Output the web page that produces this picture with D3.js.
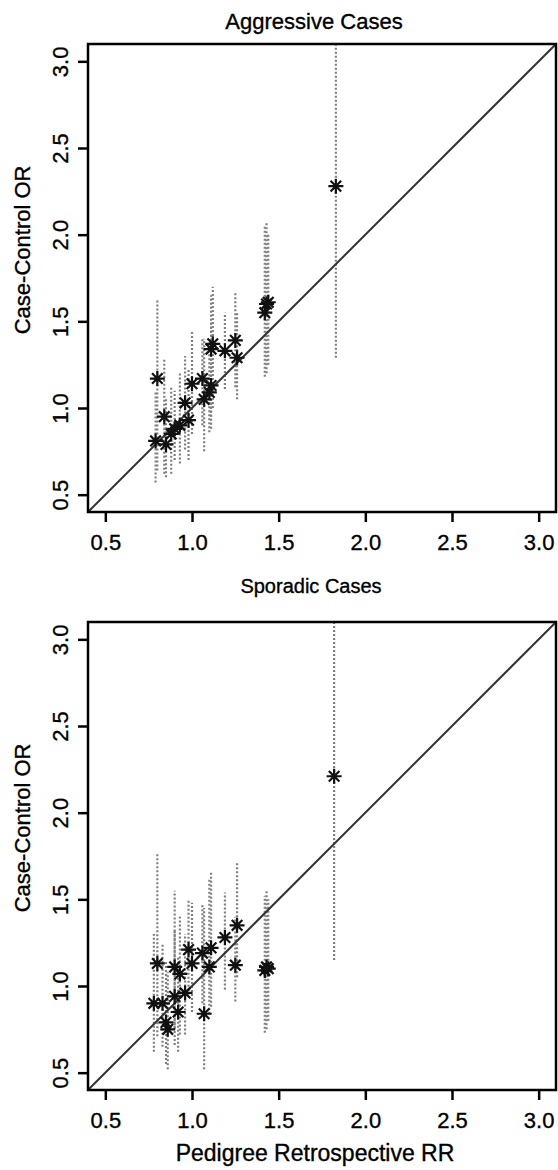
<!DOCTYPE html>
<html>
<head>
<meta charset="utf-8">
<script src="https://cdn.jsdelivr.net/npm/d3@7"></script>
<style>
  body { margin: 0; background: #fff; }
  svg { display: block; font-family: "Liberation Sans", Arial, sans-serif; }
  text { stroke: #000; stroke-width: 0.35; }
</style>
</head>
<body>
<script>
// tick labels shared by both panels
var tickValues = [0.5, 1.0, 1.5, 2.0, 2.5, 3.0];
var tickLabels = ["0.5", "1.0", "1.5", "2.0", "2.5", "3.0"];

// top panel: sporadic cases RR vs case-control OR (with CI)
var sporadicRR = [0.80, 0.84, 0.79, 0.85, 0.88, 0.90, 0.93, 0.96, 0.98, 1.00, 1.06, 1.07, 1.10, 1.11, 1.12, 1.11, 1.19, 1.25, 1.26, 1.42, 1.43, 1.44, 1.83];
var sporadicOR = [1.17, 0.95, 0.81, 0.79, 0.85, 0.88, 0.90, 1.03, 0.93, 1.14, 1.17, 1.05, 1.09, 1.13, 1.37, 1.34, 1.33, 1.39, 1.29, 1.55, 1.60, 1.61, 2.28];
var sporadicLo = [0.64, 0.62, 0.57, 0.60, 0.62, 0.70, 0.68, 0.76, 0.70, 0.85, 0.90, 0.75, 0.86, 0.88, 1.00, 0.95, 1.11, 1.12, 1.05, 1.18, 1.20, 1.25, 1.29];
var sporadicHi = [1.63, 1.28, 1.10, 1.05, 1.12, 1.10, 1.20, 1.30, 1.22, 1.45, 1.40, 1.40, 1.38, 1.50, 1.70, 1.65, 1.55, 1.67, 1.55, 2.05, 2.07, 2.00, 3.60];

// bottom panel: pedigree retrospective RR vs case-control OR (with CI)
var pedigreeRR = [0.80, 0.78, 0.83, 0.85, 0.86, 0.90, 0.90, 0.92, 0.93, 0.96, 0.98, 1.00, 1.07, 1.06, 1.10, 1.11, 1.19, 1.26, 1.25, 1.42, 1.43, 1.44, 1.82];
var pedigreeOR = [1.13, 0.90, 0.90, 0.79, 0.75, 1.11, 0.94, 0.85, 1.07, 0.96, 1.21, 1.13, 0.84, 1.19, 1.11, 1.22, 1.28, 1.35, 1.12, 1.09, 1.11, 1.10, 2.21];
var pedigreeLo = [0.71, 0.62, 0.65, 0.55, 0.52, 0.76, 0.66, 0.62, 0.72, 0.72, 0.95, 0.85, 0.52, 0.90, 0.84, 0.88, 0.98, 1.05, 0.91, 0.73, 0.75, 0.80, 1.15];
var pedigreeHi = [1.76, 1.30, 1.25, 1.15, 1.08, 1.55, 1.32, 1.17, 1.40, 1.30, 1.50, 1.48, 1.45, 1.47, 1.62, 1.66, 1.54, 1.72, 1.40, 1.52, 1.55, 1.50, 3.60];

var W = 558, H = 1170;
var svg = d3.select("body").append("svg").attr("width", W).attr("height", H);

function drawPanel(id, top, xs, ys, los, his, title, xlab, xlabSize, xlabX) {
  var left = 88, right = 556, bottom = top + 468;
  var x = d3.scaleLinear().domain([0.4, 3.1]).range([left, right]);
  var y = d3.scaleLinear().domain([0.4, 3.1]).range([bottom, top]);
  var pts = xs.map(function(d, i) { return {x: d, y: ys[i], lo: los[i], hi: his[i]}; });

  svg.append("clipPath").attr("id", id)
    .append("rect").attr("x", left).attr("y", top).attr("width", right - left).attr("height", bottom - top);

  var plot = svg.append("g").attr("clip-path", "url(#" + id + ")");

  // confidence intervals, dotted grey
  plot.selectAll("line.ci").data(pts).enter().append("line")
    .attr("class", "ci")
    .attr("x1", function(d) { return x(d.x); })
    .attr("x2", function(d) { return x(d.x); })
    .attr("y1", function(d) { return y(d.lo); })
    .attr("y2", function(d) { return y(d.hi); })
    .attr("stroke", "#808080")
    .attr("stroke-width", 2.2)
    .attr("stroke-dasharray", "2,2");

  // identity line
  plot.append("line")
    .attr("x1", x(0.4)).attr("y1", y(0.4))
    .attr("x2", x(3.1)).attr("y2", y(3.1))
    .attr("stroke", "#333").attr("stroke-width", 2);

  // asterisk markers (R pch = 8)
  var r = 7.5, q = r * 0.7071;
  var star = "M" + (-r) + ",0L" + r + ",0M0," + (-r) + "L0," + r +
             "M" + (-q) + "," + (-q) + "L" + q + "," + q +
             "M" + (-q) + "," + q + "L" + q + "," + (-q);
  plot.selectAll("path.pt").data(pts).enter().append("path")
    .attr("class", "pt")
    .attr("d", star)
    .attr("transform", function(d) { return "translate(" + x(d.x) + "," + y(d.y) + ")"; })
    .attr("stroke", "#111").attr("stroke-width", 2.2).attr("fill", "none");

  // box
  svg.append("rect")
    .attr("x", left).attr("y", top).attr("width", right - left).attr("height", bottom - top)
    .attr("fill", "none").attr("stroke", "#000").attr("stroke-width", 2.5);

  // x axis
  var xAxis = svg.append("g").attr("transform", "translate(0," + bottom + ")")
    .call(d3.axisBottom(x).tickValues(tickValues).tickSize(10).tickFormat(function(d, i) { return tickLabels[i]; }));
  xAxis.select(".domain").remove();
  xAxis.selectAll(".tick line").attr("stroke", "#000").attr("stroke-width", 2.5);
  xAxis.selectAll(".tick text").attr("font-size", 22).attr("fill", "#000")
    .attr("font-family", "Liberation Sans, Arial, sans-serif")
    .attr("y", 38).attr("dy", 0);

  // y axis
  var yAxis = svg.append("g").attr("transform", "translate(" + left + ",0)")
    .call(d3.axisLeft(y).tickValues(tickValues).tickSize(10).tickFormat(function(d, i) { return tickLabels[i]; }));
  yAxis.select(".domain").remove();
  yAxis.selectAll(".tick line").attr("stroke", "#000").attr("stroke-width", 2.5);
  yAxis.selectAll(".tick text").attr("font-size", 22).attr("fill", "#000")
    .attr("font-family", "Liberation Sans, Arial, sans-serif")
    .attr("x", null).attr("dy", 0)
    .attr("text-anchor", "middle")
    .attr("transform", "translate(-20,0) rotate(-90)");

  if (title) {
    svg.append("text").attr("x", 314).attr("y", top - 15)
      .attr("text-anchor", "middle").attr("font-size", 22).attr("fill", "#000").text(title);
  }
  svg.append("text").attr("x", xlabX).attr("y", bottom + (xlabSize > 21 ? 71 : 81))
    .attr("text-anchor", "middle").attr("font-size", xlabSize).attr("fill", "#000").text(xlab);

  svg.append("text")
    .attr("transform", "translate(30," + (top + 0.44 * 468) + ") rotate(-90)")
    .attr("text-anchor", "middle").attr("font-size", 22).attr("fill", "#000")
    .text("Case-Control OR");
}

drawPanel("clipTop", 44, sporadicRR, sporadicOR, sporadicLo, sporadicHi, "Aggressive Cases", "Sporadic Cases", 20, 311);
drawPanel("clipBot", 622, pedigreeRR, pedigreeOR, pedigreeLo, pedigreeHi, null, "Pedigree Retrospective RR", 23, 315);
</script>
</body>
</html>
